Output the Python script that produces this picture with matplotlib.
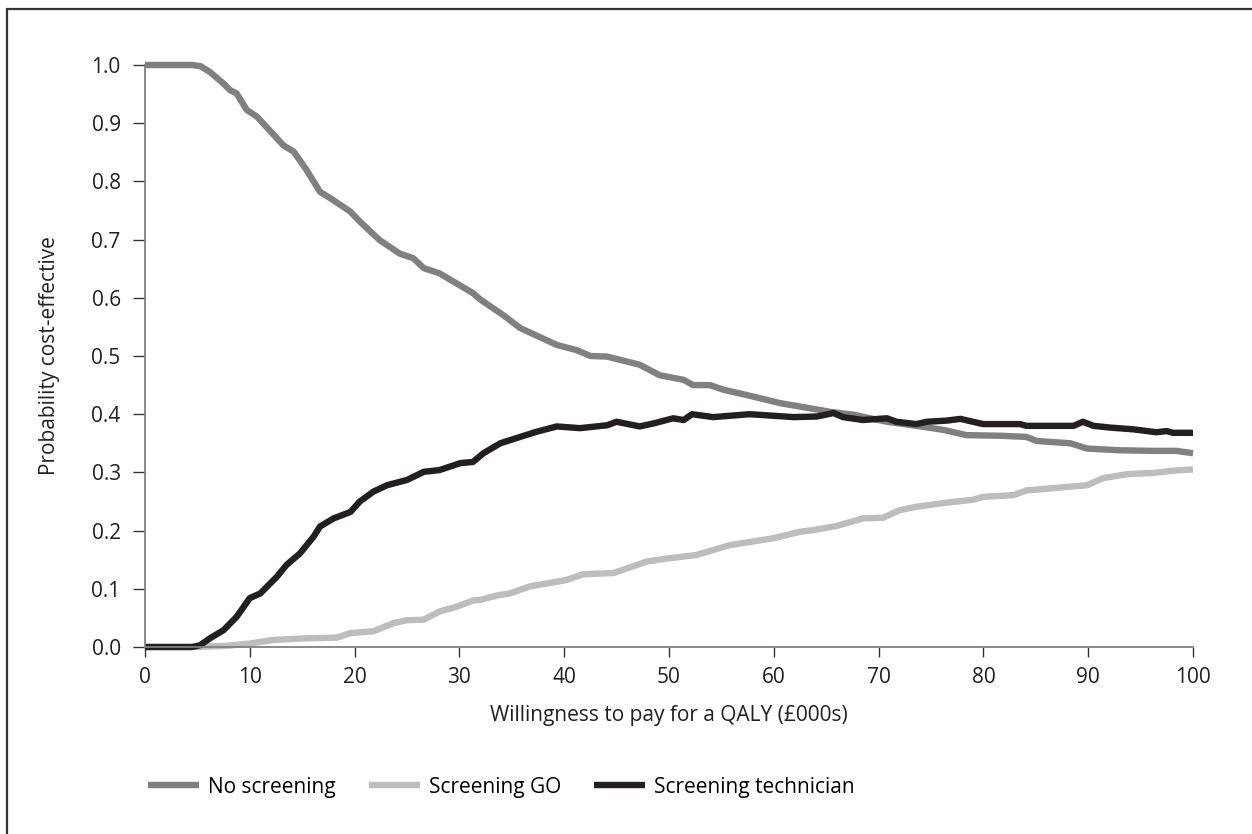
import matplotlib
matplotlib.use("Agg")
import matplotlib.pyplot as plt
import matplotlib.patches as patches

plt.rcParams["font.family"] = ["Open Sans", "DejaVu Sans"]

# Willingness-to-pay (£000s) and probability cost-effective for each strategy
wtp_none = [0, 4.5, 5.3, 6.2, 7.5, 8.1, 8.75, 9.7, 10.7, 13.2, 14.2, 15.4, 16.7,
            17.7, 19.6, 20.5, 22.4, 24.3, 25.6, 26.6, 28.1, 31.3, 32.0, 34.2,
            35.8, 39.3, 41.2, 42.5, 44.1, 47.2, 49.1, 51.4, 52.3, 53.9, 55.2,
            57.4, 60.6, 63.5, 65.4, 67.6, 70.8, 74.0, 76.2, 78.4, 81.6, 84.1,
            85.1, 88.3, 89.9, 93.0, 96.2, 98.4, 100]
p_none = [1.0, 1.0, 0.998, 0.988, 0.968, 0.957, 0.951, 0.923, 0.911, 0.862,
          0.851, 0.820, 0.782, 0.771, 0.748, 0.731, 0.699, 0.676, 0.668, 0.651,
          0.642, 0.608, 0.597, 0.570, 0.548, 0.519, 0.510, 0.500, 0.499, 0.485,
          0.467, 0.459, 0.450, 0.450, 0.442, 0.433, 0.419, 0.410, 0.404, 0.399,
          0.387, 0.379, 0.373, 0.364, 0.363, 0.361, 0.354, 0.350, 0.341, 0.338,
          0.337, 0.337, 0.333]

wtp_go = [0, 4.5, 7.8, 10, 12.2, 15.4, 18.3, 19.6, 21.8, 23.7, 25.0, 26.6, 28.1,
          29.7, 31.3, 32.0, 33.7, 34.8, 36.7, 40.2, 41.8, 44.7, 47.9, 49.8,
          52.6, 55.8, 60.0, 62.5, 63.8, 66.0, 68.5, 70.4, 72.0, 73.6, 76.5,
          79.0, 80.0, 82.9, 84.1, 87.3, 89.9, 91.4, 93.7, 96.2, 98.1, 100]
p_go = [0, 0, 0.002, 0.006, 0.012, 0.015, 0.016, 0.024, 0.027, 0.041, 0.046,
        0.047, 0.061, 0.069, 0.080, 0.081, 0.089, 0.092, 0.104, 0.115, 0.125,
        0.127, 0.147, 0.152, 0.158, 0.175, 0.187, 0.198, 0.201, 0.208, 0.221,
        0.222, 0.235, 0.241, 0.248, 0.253, 0.258, 0.261, 0.269, 0.274, 0.278,
        0.290, 0.297, 0.299, 0.303, 0.305]

wtp_tech = [0, 4.5, 5.25, 6.2, 7.5, 8.75, 10.0, 11.0, 12.6, 13.5, 14.8, 16.1,
            16.7, 18.0, 19.6, 20.5, 21.8, 23.1, 25.0, 26.6, 28.1, 30.1, 31.3,
            32.3, 33.9, 35.8, 37.4, 39.3, 41.5, 44.1, 45.0, 47.2, 48.5, 50.4,
            51.4, 52.2, 54.2, 57.7, 61.9, 64.1, 65.7, 66.6, 68.5, 70.8, 71.7,
            73.6, 74.6, 76.5, 77.8, 79.0, 80.0, 83.5, 84.1, 88.6, 89.5, 90.5,
            92.1, 94.3, 96.5, 97.5, 98.1, 100]
p_tech = [0, 0, 0.003, 0.015, 0.029, 0.052, 0.084, 0.092, 0.121, 0.141, 0.161,
          0.190, 0.207, 0.221, 0.232, 0.250, 0.267, 0.278, 0.287, 0.301, 0.304,
          0.316, 0.318, 0.333, 0.350, 0.361, 0.370, 0.379, 0.376, 0.381, 0.387,
          0.379, 0.384, 0.393, 0.390, 0.400, 0.395, 0.400, 0.395, 0.396, 0.402,
          0.395, 0.390, 0.393, 0.387, 0.383, 0.387, 0.389, 0.392, 0.387, 0.383,
          0.383, 0.380, 0.380, 0.387, 0.380, 0.377, 0.374, 0.369, 0.371, 0.368,
          0.368]

x_ticks = [0, 10, 20, 30, 40, 50, 60, 70, 80, 90, 100]
y_ticks = [0.0, 0.1, 0.2, 0.3, 0.4, 0.5, 0.6, 0.7, 0.8, 0.9, 1.0]

FS = 15
TEXT = "#231f20"

fig = plt.figure(figsize=(12.52, 8.34), dpi=100)
ax = fig.add_axes([145 / 1252, 1 - 647 / 834, 1048 / 1252, 582 / 834])

# outer frame, running off the right and bottom edges
fig.patches.append(patches.Rectangle(
    (7 / 1252, -0.1), 1.2, 1 - 9 / 834 + 0.1, transform=fig.transFigure,
    fill=False, edgecolor="#333333", linewidth=1.6))

lw = 4.6
ax.plot(wtp_none, p_none, color="#808082", lw=lw, label="No screening",
        clip_on=False, solid_capstyle="butt")
ax.plot(wtp_go, p_go, color="#bdbdbf", lw=lw, label="Screening GO",
        clip_on=False, solid_capstyle="butt")
ax.plot(wtp_tech, p_tech, color=TEXT, lw=lw, label="Screening technician",
        clip_on=False, solid_capstyle="butt")

ax.set_xlim(0, 100)
ax.set_ylim(0, 1.0)
ax.set_xticks(x_ticks)
ax.set_yticks(y_ticks)
ax.set_yticklabels([f"{v:.1f}" for v in y_ticks])

for side in ("top", "right"):
    ax.spines[side].set_visible(False)
for side in ("left", "bottom"):
    ax.spines[side].set_color("#808080")
    ax.spines[side].set_linewidth(1.3)

ax.tick_params(axis="both", direction="out", width=1, color="#333333",
               labelsize=FS, labelcolor=TEXT)
ax.tick_params(axis="y", length=8.5, pad=9)
ax.tick_params(axis="x", length=7.5, pad=7)

ax.set_xlabel("Willingness to pay for a QALY (£000s)", fontsize=FS, color=TEXT,
              va="center")
ax.xaxis.set_label_coords(0.5, (647 - 716) / 582)
ax.set_ylabel("Probability cost-effective", fontsize=FS, color=TEXT,
              va="center")
ax.yaxis.set_label_coords((50 - 145) / 1048, 0.5)

ax.legend(loc="center left", bbox_to_anchor=(3 / 1048, (647 - 787) / 582),
          ncol=3, frameon=False, fontsize=FS, handlelength=2.45,
          handletextpad=0.42, columnspacing=1.6, borderaxespad=0, borderpad=0)

fig.savefig("out.png", dpi=100)
